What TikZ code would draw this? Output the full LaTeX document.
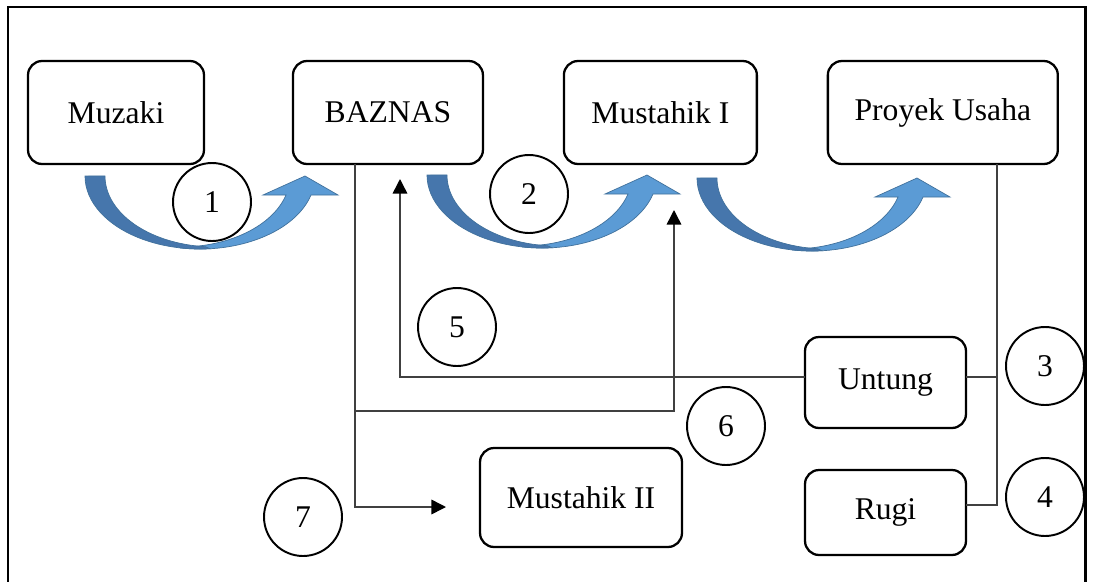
\documentclass[tikz,border=0pt]{standalone}
\usepackage{fontspec}
\setmainfont{Liberation Serif}
\usetikzlibrary{arrows.meta,positioning}
\definecolor{bluedark}{RGB}{70,118,172}
\definecolor{bluelight}{RGB}{91,155,213}
\definecolor{blueedge}{RGB}{65,113,156}

\begin{document}
\begin{tikzpicture}[
  x=0.02cm, y=-0.02cm,
  every node/.style={font=\fontsize{18}{22}\selectfont},
  box/.style={draw, line width=1.3pt, rounded corners=8pt, inner sep=0pt, outer sep=0pt, minimum height=2.06cm},
  num/.style={draw, circle, line width=1.1pt, minimum size=1.56cm, inner sep=0pt},
  line/.style={draw=black!75, line width=0.85pt},
  arrow/.style={line, -{Triangle[length=8.3pt, width=8.3pt, color=black]}},
  frame/.style={line width=1.7pt},
  turn/.style={draw=blueedge, line width=0.4pt}
]
\useasboundingbox (0,0) rectangle (1093,582);
\draw[frame] (8,590) -- (8,7) -- (1085,7) -- (1085,590);

% top row
\node[box, minimum width=3.52cm] (muz) at (116,112.5) {Muzaki};
\node[box, minimum width=3.8cm, right=1.78cm of muz] (baz) {BAZNAS};
\node[box, minimum width=3.86cm, right=1.62cm of baz] (mus1) {Mustahik I};
\node[box, minimum width=4.6cm, right=1.42cm of mus1] (pro) {Proyek Usaha};

% results and second mustahik
\node[box, minimum width=3.22cm, minimum height=1.82cm] (unt) at (885.5,382.5) {Untung};
\node[box, minimum width=3.22cm, minimum height=1.7cm] (rug) at (885.5,512.5) {Rugi};
\node[box, minimum width=4.04cm, minimum height=1.98cm] (mus2) at (581,497.5) {Mustahik II};

% step numbers
\node[num] (n1) at (212,202) {1};
\node[num] (n2) at (529,194) {2};
\node[num] (n3) at (1045,366) {3};
\node[num] (n4) at (1045,497) {4};
\node[num] (n5) at (457,327) {5};
\node[num] (n6) at (726,426) {6};
\node[num] (n7) at (303,517) {7};

% curved block arrows
\foreach \x/\y in {85/176, 427/175, 697/178}{
  \begin{scope}[shift={(\x,\y)}]
    \fill[bluelight, turn] (95,71.9) arc[start angle=100, end angle=15.1, x radius=115, y radius=73]
      -- (253,19) -- (220,0) -- (178,19) -- (201,19)
      arc[start angle=15.5, end angle=90, x radius=110, y radius=71] -- cycle;
    \fill[bluedark, turn] (0,0) arc[start angle=180, end angle=85, x radius=115, y radius=73]
      -- (120.4,70.7) arc[start angle=95, end angle=180, x radius=110, y radius=71] -- cycle;
  \end{scope}
}

% connectors
\coordinate (j7) at (355,411);
\coordinate (t6) at (674,210);
\coordinate (t7) at (446,507);
\coordinate (t5) at (400,179);
\coordinate (j3) at (997,505);
\draw[arrow] (baz.south -| j7) -- (j7) -| (t6);
\draw[arrow] (j7) |- (t7);
\draw[arrow] ([yshift=0.11cm]unt.west) -| (t5);
\draw[line] (pro.south -| j3) -- (j3) -- (j3 -| rug.east);
\draw[line] ([yshift=0.11cm]unt.east) -- ([yshift=0.11cm]unt.east -| j3);
\end{tikzpicture}
\end{document}
